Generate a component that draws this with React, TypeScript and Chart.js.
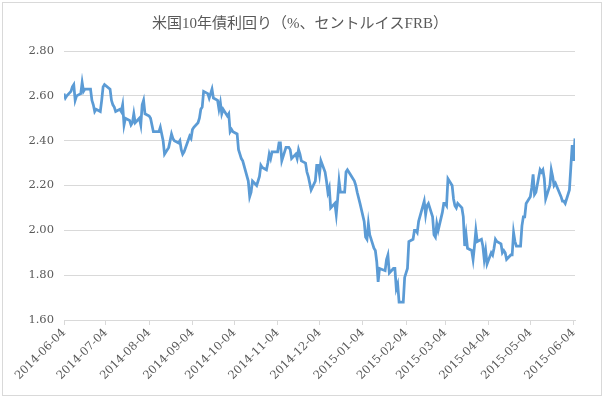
import { useEffect, useRef } from 'react';
import { Chart, registerables } from 'chart.js';

Chart.register(...registerables);

const TITLE = '米国10年債利回り（%、セントルイスFRB）';

const dates: string[] = [
  '2014-06-04', '2014-06-05', '2014-06-06', '2014-06-09', '2014-06-10', '2014-06-11', '2014-06-12', '2014-06-13',
  '2014-06-16', '2014-06-17', '2014-06-18', '2014-06-19', '2014-06-20', '2014-06-23', '2014-06-24', '2014-06-25',
  '2014-06-26', '2014-06-27', '2014-06-30',
  '2014-07-01', '2014-07-02', '2014-07-03', '2014-07-07', '2014-07-08', '2014-07-09', '2014-07-10', '2014-07-11',
  '2014-07-14', '2014-07-15', '2014-07-16', '2014-07-17', '2014-07-18', '2014-07-21', '2014-07-22', '2014-07-23',
  '2014-07-24', '2014-07-25', '2014-07-28', '2014-07-29', '2014-07-30', '2014-07-31',
  '2014-08-01', '2014-08-04', '2014-08-05', '2014-08-06', '2014-08-07', '2014-08-08', '2014-08-11', '2014-08-12',
  '2014-08-13', '2014-08-14', '2014-08-15', '2014-08-18', '2014-08-19', '2014-08-20', '2014-08-21', '2014-08-22',
  '2014-08-25', '2014-08-26', '2014-08-27', '2014-08-28', '2014-08-29',
  '2014-09-02', '2014-09-03', '2014-09-04', '2014-09-05', '2014-09-08', '2014-09-09', '2014-09-10', '2014-09-11',
  '2014-09-12', '2014-09-15', '2014-09-16', '2014-09-17', '2014-09-18', '2014-09-19', '2014-09-22', '2014-09-23',
  '2014-09-24', '2014-09-25', '2014-09-26', '2014-09-29', '2014-09-30',
  '2014-10-01', '2014-10-02', '2014-10-03', '2014-10-06', '2014-10-07', '2014-10-08', '2014-10-09', '2014-10-10',
  '2014-10-14', '2014-10-15', '2014-10-16', '2014-10-17', '2014-10-20', '2014-10-21', '2014-10-22', '2014-10-23',
  '2014-10-24', '2014-10-27', '2014-10-28', '2014-10-29', '2014-10-30', '2014-10-31',
  '2014-11-03', '2014-11-04', '2014-11-05', '2014-11-06', '2014-11-07', '2014-11-10', '2014-11-12', '2014-11-13',
  '2014-11-14', '2014-11-17', '2014-11-18', '2014-11-19', '2014-11-20', '2014-11-21', '2014-11-24', '2014-11-25',
  '2014-11-26', '2014-11-28',
  '2014-12-01', '2014-12-02', '2014-12-03', '2014-12-04', '2014-12-05', '2014-12-08', '2014-12-09', '2014-12-10',
  '2014-12-11', '2014-12-12', '2014-12-15', '2014-12-16', '2014-12-17', '2014-12-18', '2014-12-19', '2014-12-22',
  '2014-12-23', '2014-12-24', '2014-12-26', '2014-12-29', '2014-12-30', '2014-12-31',
  '2015-01-02', '2015-01-05', '2015-01-06', '2015-01-07', '2015-01-08', '2015-01-09', '2015-01-12', '2015-01-13',
  '2015-01-14', '2015-01-15', '2015-01-16', '2015-01-20', '2015-01-21', '2015-01-22', '2015-01-23', '2015-01-26',
  '2015-01-27', '2015-01-28', '2015-01-29', '2015-01-30',
  '2015-02-02', '2015-02-03', '2015-02-04', '2015-02-05', '2015-02-06', '2015-02-09', '2015-02-10', '2015-02-11',
  '2015-02-12', '2015-02-13', '2015-02-17', '2015-02-18', '2015-02-19', '2015-02-20', '2015-02-23', '2015-02-24',
  '2015-02-25', '2015-02-26', '2015-02-27',
  '2015-03-02', '2015-03-03', '2015-03-04', '2015-03-05', '2015-03-06', '2015-03-09', '2015-03-10', '2015-03-11',
  '2015-03-12', '2015-03-13', '2015-03-16', '2015-03-17', '2015-03-18', '2015-03-19', '2015-03-20', '2015-03-23',
  '2015-03-24', '2015-03-25', '2015-03-26', '2015-03-27', '2015-03-30', '2015-03-31',
  '2015-04-01', '2015-04-02', '2015-04-03', '2015-04-06', '2015-04-07', '2015-04-08', '2015-04-09', '2015-04-10',
  '2015-04-13', '2015-04-14', '2015-04-15', '2015-04-16', '2015-04-17', '2015-04-20', '2015-04-21', '2015-04-22',
  '2015-04-23', '2015-04-24', '2015-04-27', '2015-04-28', '2015-04-29', '2015-04-30',
  '2015-05-01', '2015-05-04', '2015-05-05', '2015-05-06', '2015-05-07', '2015-05-08', '2015-05-11', '2015-05-12',
  '2015-05-13', '2015-05-14', '2015-05-15', '2015-05-18', '2015-05-19', '2015-05-20', '2015-05-21', '2015-05-22',
  '2015-05-26', '2015-05-27', '2015-05-28', '2015-05-29',
  '2015-06-01', '2015-06-02', '2015-06-03', '2015-06-04', '2015-06-05',
];

const yields: number[] = [
  2.61, 2.59, 2.60, 2.62, 2.64, 2.65, 2.58, 2.60,
  2.61, 2.66, 2.62, 2.63, 2.63, 2.63, 2.58, 2.56,
  2.53, 2.54, 2.53,
  2.58, 2.64, 2.65, 2.63, 2.58, 2.56, 2.55, 2.53,
  2.54, 2.53, 2.56, 2.47, 2.50, 2.49, 2.47, 2.48,
  2.52, 2.48, 2.50, 2.47, 2.56, 2.58,
  2.52, 2.51, 2.50, 2.47, 2.44, 2.44, 2.44, 2.46,
  2.43, 2.40, 2.34, 2.37, 2.40, 2.43, 2.41, 2.40,
  2.39, 2.40, 2.36, 2.34, 2.35,
  2.42, 2.41, 2.45, 2.46, 2.48, 2.50, 2.54, 2.55,
  2.62, 2.61, 2.59, 2.61, 2.63, 2.59, 2.58, 2.54,
  2.57, 2.52, 2.54, 2.51, 2.52,
  2.44, 2.45, 2.44, 2.43, 2.36, 2.34, 2.32, 2.31,
  2.22, 2.15, 2.17, 2.22, 2.20, 2.22, 2.24, 2.29,
  2.28, 2.27, 2.30, 2.34, 2.32, 2.35,
  2.35, 2.35, 2.39, 2.39, 2.31, 2.37, 2.37, 2.36,
  2.32, 2.34, 2.32, 2.36, 2.34, 2.31, 2.30, 2.26,
  2.24, 2.18,
  2.22, 2.29, 2.29, 2.25, 2.31, 2.26, 2.22, 2.17,
  2.19, 2.10, 2.12, 2.07, 2.14, 2.22, 2.17, 2.17,
  2.26, 2.27, 2.25, 2.22, 2.20, 2.17,
  2.12, 2.04, 1.97, 1.96, 2.03, 1.98, 1.92, 1.91,
  1.86, 1.77, 1.83, 1.82, 1.87, 1.89, 1.81, 1.83,
  1.83, 1.74, 1.76, 1.68,
  1.68, 1.79, 1.81, 1.83, 1.95, 1.96, 2.00, 2.00,
  1.99, 2.04, 2.13, 2.07, 2.11, 2.12, 2.06, 1.98,
  1.97, 2.03, 2.00,
  2.08, 2.12, 2.12, 2.11, 2.23, 2.20, 2.14, 2.11,
  2.10, 2.12, 2.10, 2.06, 1.93, 1.98, 1.92, 1.91,
  1.87, 1.93, 2.00, 1.95, 1.96, 1.93,
  1.87, 1.91, 1.85, 1.90, 1.89, 1.92, 1.96, 1.95,
  1.94, 1.90, 1.91, 1.90, 1.87, 1.89, 1.89, 1.99,
  1.95, 1.93, 1.93, 2.02, 2.06, 2.06,
  2.12, 2.15, 2.19, 2.25, 2.16, 2.17, 2.27, 2.26,
  2.27, 2.23, 2.14, 2.20, 2.27, 2.24, 2.20, 2.21,
  2.15, 2.13, 2.13, 2.12,
  2.18, 2.28, 2.38, 2.31, 2.41,
];

const xTickLabels: string[] = [
  '2014-06-04', '2014-07-04', '2014-08-04', '2014-09-04', '2014-10-04', '2014-11-04', '2014-12-04',
  '2015-01-04', '2015-02-04', '2015-03-04', '2015-04-04', '2015-05-04', '2015-06-04',
];

const yMin = 1.6;
const yMax = 2.8;
const yStep = 0.2;

const START = Date.UTC(2014, 5, 4);
const dayOf = (s: string) => {
  const [y, m, d] = s.split('-').map(Number);
  return (Date.UTC(y, m - 1, d) - START) / 86400000;
};

const TEXT = '#595959';
const GRID = '#d9d9d9';

export default function App() {
  const ref = useRef<HTMLCanvasElement>(null);

  useEffect(() => {
    document.body.style.margin = '0';
    const frame = {
      id: 'frame',
      beforeDraw(chart: any) {
        const ctx = chart.ctx;
        ctx.save();
        ctx.fillStyle = '#ffffff';
        ctx.fillRect(0, 0, chart.width, chart.height);
        ctx.strokeStyle = GRID;
        ctx.lineWidth = 1;
        ctx.strokeRect(2.5, 2.5, 599, 393);
        ctx.restore();
      },
    };
    const tickDays = xTickLabels.map(dayOf);
    const chart = new Chart(ref.current as HTMLCanvasElement, {
      type: 'line',
      data: {
        datasets: [
          {
            data: dates.map((d, i) => ({ x: dayOf(d), y: yields[i] })),
            borderColor: '#5B9BD5',
            borderWidth: 2.75,
            pointRadius: 0,
            tension: 0,
            fill: false,
          },
        ],
      },
      options: {
        animation: false,
        responsive: false,
        maintainAspectRatio: false,
        layout: { padding: { left: 25, right: 30, top: 0, bottom: 0 } },
        plugins: {
          legend: { display: false },
          tooltip: { enabled: false },
          title: {
            display: true,
            text: TITLE,
            color: TEXT,
            font: { family: "'Liberation Serif', 'Noto Sans CJK JP'", size: 15, weight: 'normal' },
            padding: { top: 15, bottom: 18 },
          },
        },
        scales: {
          x: {
            type: 'linear',
            min: 0,
            max: 366,
            afterFit: (s: any) => {
              s.height = 79;
            },
            afterBuildTicks: (s: any) => {
              s.ticks = tickDays.map((v) => ({ value: v }));
            },
            ticks: {
              autoSkip: false,
              minRotation: 45,
              maxRotation: 45,
              color: TEXT,
              padding: 1,
              font: { family: "'DejaVu Serif'", size: 11.5 },
              callback: (_v: any, i: number) => xTickLabels[i],
            },
            grid: { display: true, drawOnChartArea: false, drawTicks: true, tickLength: 5, color: GRID },
            border: { display: true, color: GRID },
          },
          y: {
            min: yMin,
            max: yMax,
            afterFit: (s: any) => {
              s.width = 39;
            },
            ticks: {
              stepSize: yStep,
              color: TEXT,
              padding: 10,
              font: { family: "'DejaVu Serif'", size: 11.5 },
              callback: (v: any) => Number(v).toFixed(2),
            },
            grid: { color: GRID, drawTicks: false },
            border: { display: false },
          },
        },
      },
      plugins: [frame],
    });
    return () => chart.destroy();
  }, []);

  return (
    <div style={{ position: 'absolute', left: 0, top: 0, width: 605, height: 399 }}>
      <canvas ref={ref} width={605} height={399} style={{ display: 'block', width: 605, height: 399 }} />
    </div>
  );
}
